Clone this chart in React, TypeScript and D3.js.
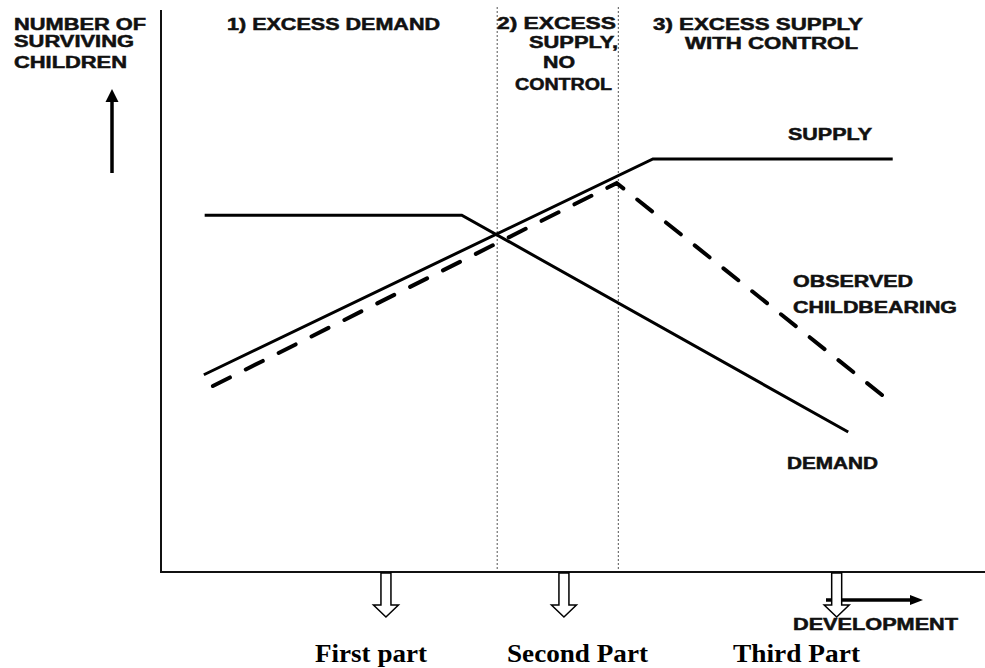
import React from "react";
import * as d3 from "d3";

// Conceptual units: development (x, 0..100) and number of surviving children (y, 0..100)
const demandX = [5.3, 36.5, 83.4];
const demandY = [63.5, 63.5, 24.9];
const supplyX = [5.2, 59.7, 88.8];
const supplyY = [35.1, 73.5, 73.5];
const observedX = [6.3, 55.3, 87.5];
const observedY = [33.1, 69.2, 31.5];
const phaseBoundaries = [40.8, 55.5];
const partLabels = ["First part", "Second Part", "Third Part"];
const partArrowX = [27.3, 48.9, 82.0];

const W = 985;
const H = 668;

type T = { t: string; x: number; y: number; w: number };

const headerTexts: T[] = [
  { t: "NUMBER OF", x: 14, y: 30, w: 132 },
  { t: "SURVIVING", x: 14, y: 47, w: 120 },
  { t: "CHILDREN", x: 14, y: 68, w: 113 },
  { t: "1) EXCESS DEMAND", x: 227, y: 30, w: 213 },
  { t: "2) EXCESS", x: 497, y: 29, w: 119 },
  { t: "SUPPLY,", x: 529, y: 48, w: 89 },
  { t: "NO", x: 543, y: 68, w: 32 },
  { t: "CONTROL", x: 515, y: 90, w: 97 },
  { t: "3) EXCESS SUPPLY", x: 653, y: 30, w: 210 },
  { t: "WITH CONTROL", x: 685, y: 49, w: 173 },
  { t: "SUPPLY", x: 788, y: 140, w: 84 },
  { t: "OBSERVED", x: 793, y: 287, w: 120 },
  { t: "CHILDBEARING", x: 793, y: 313, w: 164 },
  { t: "DEMAND", x: 787, y: 469, w: 91 },
  { t: "DEVELOPMENT", x: 793, y: 630, w: 165 },
];

const partTextPos = [
  { x: 315, w: 112 },
  { x: 507, w: 141 },
  { x: 733, w: 127 },
];

export default function App() {
  const x = d3.scaleLinear().domain([0, 100]).range([161, 985]);
  const y = d3.scaleLinear().domain([0, 100]).range([572, 10]);

  const line = d3
    .line<[number, number]>()
    .x((d) => x(d[0]))
    .y((d) => y(d[1]));

  const pts = (xs: number[], ys: number[]) =>
    xs.map((v, i) => [v, ys[i]] as [number, number]);

  const x0 = x(0);
  const y0 = y(0);

  // dashed line: make pattern end on a dash
  const obsPts = pts(observedX, observedY);
  let obsLen = 0;
  for (let i = 1; i < obsPts.length; i++) {
    obsLen += Math.hypot(x(obsPts[i][0]) - x(obsPts[i - 1][0]), y(obsPts[i][1]) - y(obsPts[i - 1][1]));
  }
  const dash = 19;
  const n = Math.round((obsLen - dash) / 36.5);
  const gap = (obsLen - dash) / n - dash;

  return (
    <svg
      width={W}
      height={H}
      style={{ position: "absolute", left: 0, top: 0, background: "#fff" }}
    >
      <rect x={0} y={0} width={W} height={H} fill="#fff" />
      {/* phase boundaries */}
      {phaseBoundaries.map((b, i) => (
        <line
          key={i}
          x1={x(b)}
          x2={x(b)}
          y1={7}
          y2={y0}
          stroke="#555"
          strokeWidth={1}
          strokeDasharray="2 2"
        />
      ))}
      {/* axes */}
      <line x1={x0} x2={x0} y1={y(100)} y2={y0 + 1} stroke="#111" strokeWidth={2} />
      <line x1={x0} x2={x(100)} y1={y0} y2={y0} stroke="#111" strokeWidth={2} />

      {/* curves */}
      <path d={line(pts(demandX, demandY)) || ""} fill="none" stroke="#000" strokeWidth={3} />
      <path d={line(pts(supplyX, supplyY)) || ""} fill="none" stroke="#000" strokeWidth={3} />
      <path
        d={line(obsPts) || ""}
        fill="none"
        stroke="#000"
        strokeWidth={4}
        strokeDasharray={`${dash} ${gap}`}
        strokeLinecap="round"
      />

      {/* y arrow */}
      <line x1={112} x2={112} y1={173} y2={100} stroke="#000" strokeWidth={3.5} />
      <path d="M105.5,102 L112,89 L118.5,102 Z" fill="#000" />

      {/* development arrow */}
      <line x1={826} x2={912} y1={600} y2={600} stroke="#000" strokeWidth={3.5} />
      <path d="M910,595 L923,600 L910,605 Z" fill="#000" />

      {/* hollow part arrows */}
      {partArrowX.map((v, i) => {
        const cx = x(v);
        const top = y0 + 1;
        const d = `M${cx - 5},${top} L${cx + 5},${top} L${cx + 5},${top + 32} L${cx + 12.5},${top + 32} L${cx},${top + 44} L${cx - 12.5},${top + 32} L${cx - 5},${top + 32} Z`;
        return <path key={i} d={d} fill="#fff" stroke="#000" strokeWidth={1.5} strokeLinejoin="miter" />;
      })}

      {/* texts */}
      {headerTexts.map((h, i) => (
        <text
          key={i}
          x={h.x}
          y={h.y}
          textLength={h.w}
          lengthAdjust="spacingAndGlyphs"
          fontFamily="'Liberation Sans', Arial, sans-serif"
          fontWeight="bold"
          fontSize={16}
          fill="#111"
          stroke="#111"
          strokeWidth={0.5}
        >
          {h.t}
        </text>
      ))}
      {partLabels.map((p, i) => (
        <text
          key={i}
          x={partTextPos[i].x}
          y={662}
          textLength={partTextPos[i].w}
          lengthAdjust="spacingAndGlyphs"
          fontFamily="'Liberation Serif', 'Times New Roman', serif"
          fontWeight="bold"
          fontSize={26}
          fill="#000"
        >
          {p}
        </text>
      ))}
    </svg>
  );
}
